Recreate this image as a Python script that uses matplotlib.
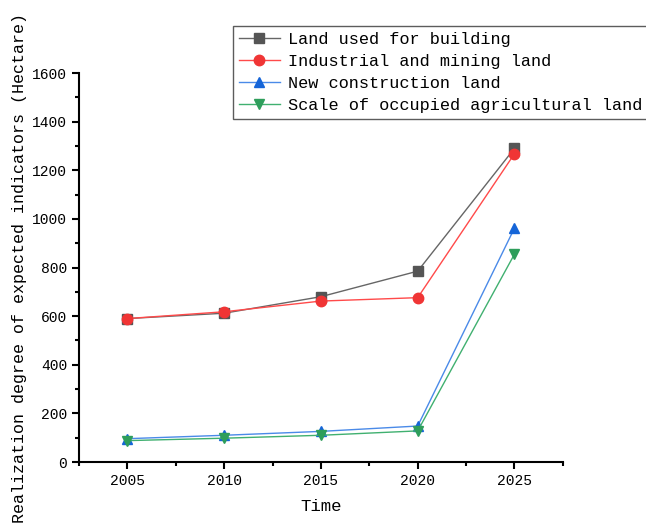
import matplotlib
matplotlib.use("Agg")
import matplotlib.pyplot as plt
from matplotlib.ticker import MultipleLocator

years = [2005, 2010, 2015, 2020, 2025]
building = [590, 612, 680, 785, 1290]
industrial = [590, 618, 662, 676, 1268]
new_construction = [96, 110, 126, 148, 962]
occupied_agri = [88, 98, 110, 128, 855]

labels = ["Land used for building", "Industrial and mining land",
          "New construction land", "Scale of occupied agricultural land"]

plt.rcParams['font.family'] = ['Liberation Mono', 'DejaVu Sans Mono']

fig = plt.figure(figsize=(6.46, 5.23), dpi=100)
ax = fig.add_axes([0.1223, 0.1166, 0.749, 0.7438])

series = [
    (building, 's', '#555555', '#666666'),
    (industrial, 'o', '#F03535', '#FF4A4A'),
    (new_construction, '^', '#1565D8', '#4A8AE8'),
    (occupied_agri, 'v', '#2E9E5B', '#40B070'),
]
handles = []
for vals, mk, mc, lc in series:
    h, = ax.plot(years, vals, color=lc, lw=1.0, marker=mk, markersize=7.5,
                 markerfacecolor=mc, markeredgecolor=mc)
    handles.append(h)

ax.set_xlim(2002.5, 2027.5)
ax.set_ylim(0, 1600)
ax.xaxis.set_major_locator(MultipleLocator(5))
ax.xaxis.set_minor_locator(MultipleLocator(2.5))
ax.yaxis.set_major_locator(MultipleLocator(200))
ax.yaxis.set_minor_locator(MultipleLocator(100))
for s in ['top', 'right']:
    ax.spines[s].set_visible(False)
for s in ['left', 'bottom']:
    ax.spines[s].set_linewidth(1.5)
ax.tick_params(which='major', direction='out', length=5, width=1.5, labelsize=10.5)
ax.tick_params(which='minor', direction='out', length=3, width=1.5)

ax.set_xlabel("Time", fontsize=12.5, labelpad=8)
ax.set_ylabel("Realization degree of expected indicators (Hectare)", fontsize=12, labelpad=4)

leg = fig.legend(handles, labels, loc='upper left',
                 bbox_to_anchor=(233 / 646, 1 - 26 / 523),
                 frameon=True, fancybox=False, fontsize=12.2,
                 handlelength=2.4, handletextpad=0.5, borderpad=0.35,
                 labelspacing=0.42, borderaxespad=0)
leg.get_frame().set_edgecolor('#333333')
leg.get_frame().set_linewidth(1.0)

fig.savefig("out.png", dpi=100)
